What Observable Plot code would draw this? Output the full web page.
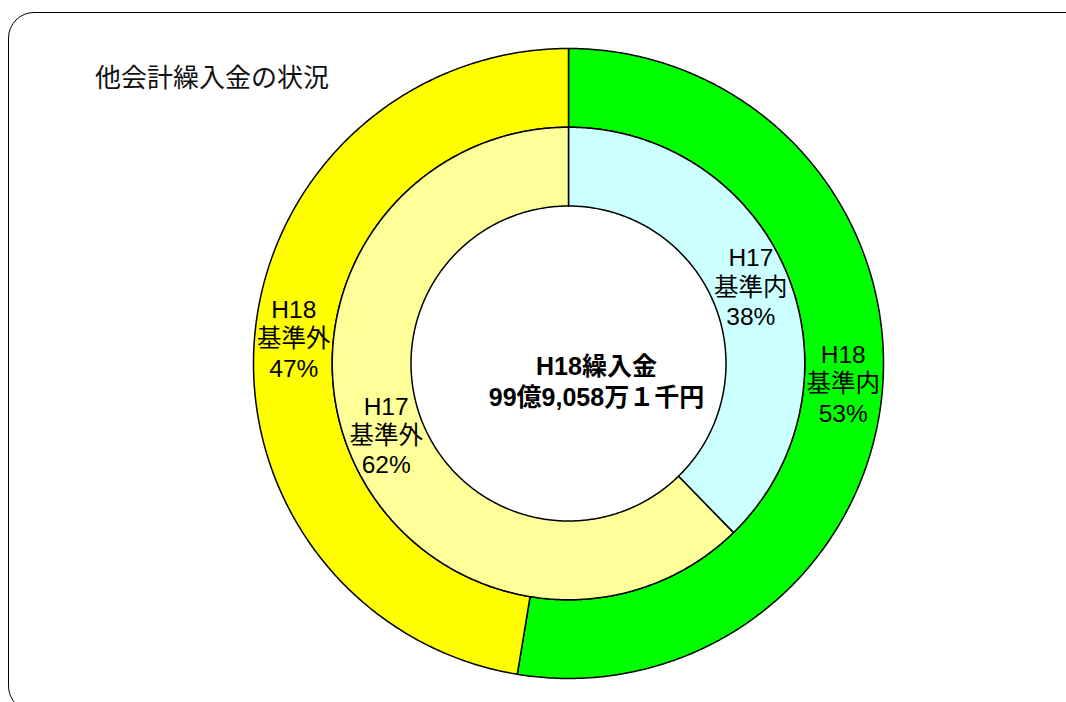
<!DOCTYPE html>
<html>
<head>
<meta charset="utf-8">
<script src="https://cdn.jsdelivr.net/npm/d3@7"></script>
<script src="https://cdn.jsdelivr.net/npm/@observablehq/plot@0.6"></script>
<style>
  html, body { margin: 0; padding: 0; background: #fff; }
  #wrap { position: relative; width: 1066px; height: 702px; overflow: hidden; background: #fff; }
  #border { position: absolute; left: 8px; top: 12px; width: 1090px; height: 700px; border: 1.5px solid #000; border-radius: 26px; box-sizing: border-box; }
  #title { position: absolute; left: 95px; top: 62px; font-family: "Noto Sans CJK JP", sans-serif; font-size: 26px; line-height: 28px; color: #111; white-space: nowrap; }
  #chart { position: absolute; left: 0; top: 0; }
</style>
</head>
<body>
<div id="wrap">
  <div id="border"></div>
  <div id="chart"></div>
  <div id="title"></div>
</div>
<script>
// ---- data ----
const chartTitle = "他会計繰入金の状況";
const categories = ["基準内", "基準外"];
const years = ["H18", "H17"];            // outer ring, inner ring
const h18Values = [52.6, 47.4];           // shown as 53% / 47%
const h17Values = [37.7, 62.3];           // shown as 38% / 62%
const sliceKeys = ["H18 基準内", "H18 基準外", "H17 基準内", "H17 基準外"];
const sliceColors = ["#00ff00", "#ffff00", "#ccffff", "#ffff99"];
const centerLines = ["H18繰入金", "99億9,058万１千円"];

document.getElementById("title").textContent = chartTitle;

// ---- geometry from values ----
const rings = [
  {year: years[0], values: h18Values, r0: 0.75, r1: 1},
  {year: years[1], values: h17Values, r0: 0.5, r1: 0.75}
];
const pie = d3.pie().sort(null).startAngle(0).endAngle(2 * Math.PI);
const pt = (r, a) => ({x: r * Math.sin(a), y: r * Math.cos(a)});

const outlinePts = [];
const labels = [];
for (const ring of rings) {
  const arcs = pie(ring.values);
  arcs.forEach((arc, i) => {
    const key = ring.year + " " + categories[i];
    const a0 = arc.startAngle, a1 = arc.endAngle;
    const n = Math.max(2, Math.ceil((a1 - a0) / (Math.PI / 360)));
    const poly = [];
    for (let k = 0; k <= n; k++) poly.push(pt(ring.r1, a0 + (a1 - a0) * k / n));
    for (let k = n; k >= 0; k--) poly.push(pt(ring.r0, a0 + (a1 - a0) * k / n));
    poly.push(poly[0]);
    for (const p of poly) outlinePts.push({...p, key});
    const c = pt((ring.r0 + ring.r1) / 2, (a0 + a1) / 2);
    labels.push({...c, text: `${ring.year}\n${categories[i]}\n${Math.round(ring.values[i])}%`});
  });
}
const center = [{...pt(0, 0), text: centerLines.join("\n")}];

const R = 315, cx = 568, cy = 363;
const chart = Plot.plot({
  width: 1066,
  height: 702,
  margin: 0,
  x: {domain: [-1, 1], range: [cx - R, cx + R], axis: null},
  y: {domain: [-1, 1], range: [cy + R, cy - R], axis: null},
  color: {domain: sliceKeys, range: sliceColors},
  style: {background: "transparent"},
  marks: [
    Plot.line(outlinePts, {x: "x", y: "y", z: "key", fill: "key", stroke: "#000", strokeWidth: 1.5, curve: "linear"}),
    Plot.text(labels, {x: "x", y: "y", text: "text", fontSize: 24.5, lineHeight: 1.2, dy: -3,
      fontFamily: "'Liberation Sans', 'Noto Sans CJK JP', sans-serif", fill: "#000"}),
    Plot.text(center, {x: "x", y: "y", text: "text", fontSize: 25, lineHeight: 1.24, fontWeight: "bold",
      dx: 28, dy: 17, fontFamily: "'Liberation Sans', 'Noto Sans CJK JP', sans-serif", fill: "#000"})
  ]
});
document.getElementById("chart").appendChild(chart);
</script>
</body>
</html>
